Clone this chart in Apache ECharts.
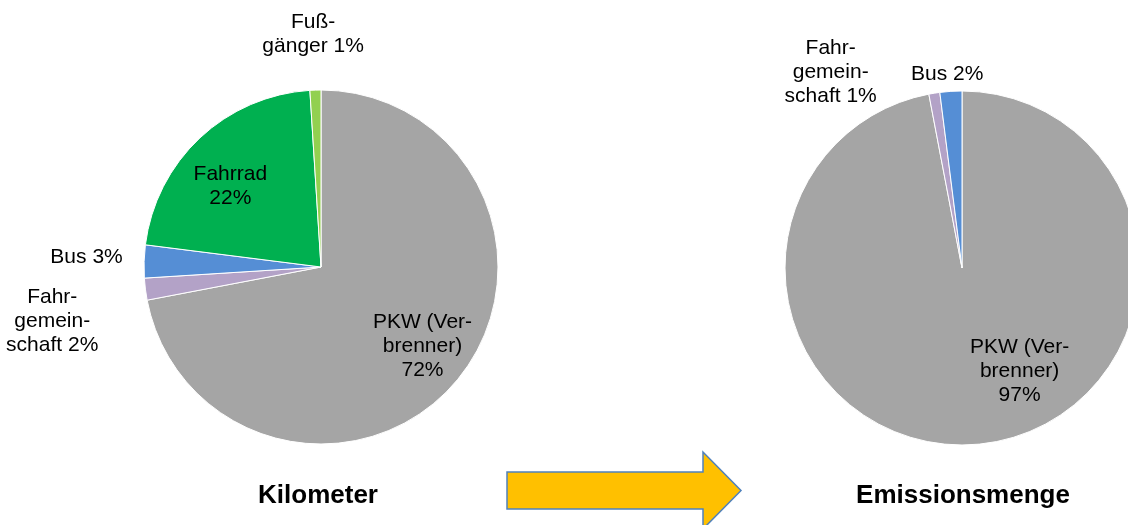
<!DOCTYPE html>
<html>
<head>
<meta charset="utf-8">
<script src="https://cdn.jsdelivr.net/npm/echarts@6/dist/echarts.min.js"></script>
<style>
  html, body { margin: 0; padding: 0; background: #ffffff; }
  #chart { width: 1128px; height: 525px; }
</style>
</head>
<body>
<div id="chart"></div>
<script>
// Anteile nach Verkehrsmittel – zurückgelegte Kilometer
const kmCategories = ['PKW (Verbrenner)', 'Fahrgemeinschaft', 'Bus', 'Fahrrad', 'Fußgänger'];
const kmShares = [72, 2, 3, 22, 1];
const kmLabelNames = ['PKW (Ver-\nbrenner)', 'Fahr-\ngemein-\nschaft', 'Bus', 'Fahrrad', 'Fuß-\ngänger'];

// Anteile nach Verkehrsmittel – Emissionsmenge
const emCategories = ['PKW (Verbrenner)', 'Fahrgemeinschaft', 'Bus'];
const emShares = [97, 1, 2];
const emLabelNames = ['PKW (Ver-\nbrenner)', 'Fahr-\ngemein-\nschaft', 'Bus'];

// Farben je Verkehrsmittel
const modeColors = {
  'PKW (Verbrenner)': '#A5A5A5',
  'Fahrgemeinschaft': '#B3A2C7',
  'Bus': '#558ED5',
  'Fahrrad': '#00B050',
  'Fußgänger': '#92D050'
};

// Verschiebung der Beschriftungen gegenüber der Sektormitte (px)
const kmLabelShift = [[31, 21], [-178, 43], [-143, -7], [-28, -14], [-5, -141]];
const emLabelShift = [[49, 12], [-117, -105], [-9, -102]];

const FONT = '"Liberation Sans", Arial, sans-serif';

function buildData(categories, shares) {
  return categories.map((name, i) => ({
    name: name,
    value: shares[i],
    itemStyle: { color: modeColors[name] }
  }));
}

function pieSeries(categories, shares, labelNames, shifts, center) {
  return {
    type: 'pie',
    center: center,
    radius: 177,
    startAngle: 90,
    clockwise: true,
    silent: true,
    avoidLabelOverlap: false,
    itemStyle: { borderColor: '#ffffff', borderWidth: 1 },
    label: {
      show: true,
      position: 'inside',
      color: '#000000',
      fontFamily: FONT,
      fontSize: 21,
      lineHeight: 24,
      align: 'center',
      formatter: (p) => {
        const sep = p.value >= 10 ? '\n' : ' ';
        return labelNames[p.dataIndex] + sep + p.value + '%';
      }
    },
    labelLine: { show: false },
    labelLayout: (p) => ({ dx: shifts[p.dataIndex][0], dy: shifts[p.dataIndex][1] }),
    data: buildData(categories, shares)
  };
}

const chart = echarts.init(document.getElementById('chart'), null, { renderer: 'canvas' });

chart.setOption({
  backgroundColor: '#ffffff',
  animation: false,
  title: [
    {
      text: 'Kilometer',
      left: 313, top: 491, textAlign: 'center', textVerticalAlign: 'middle',
      textStyle: { fontFamily: FONT, fontSize: 26, fontWeight: 'bold', color: '#000000' }
    },
    {
      text: 'Emissionsmenge',
      left: 958, top: 491, textAlign: 'center', textVerticalAlign: 'middle',
      textStyle: { fontFamily: FONT, fontSize: 26, fontWeight: 'bold', color: '#000000' }
    }
  ],
  graphic: [
    {
      type: 'polygon',
      shape: {
        points: [[507, 472], [703, 472], [703, 452], [741, 490.5], [703, 529], [703, 509], [507, 509]]
      },
      style: { fill: '#FFC000', stroke: '#4F81BD', lineWidth: 1.5 }
    }
  ],
  series: [
    pieSeries(kmCategories, kmShares, kmLabelNames, kmLabelShift, [321, 267]),
    pieSeries(emCategories, emShares, emLabelNames, emLabelShift, [962, 268])
  ]
});
</script>
</body>
</html>
